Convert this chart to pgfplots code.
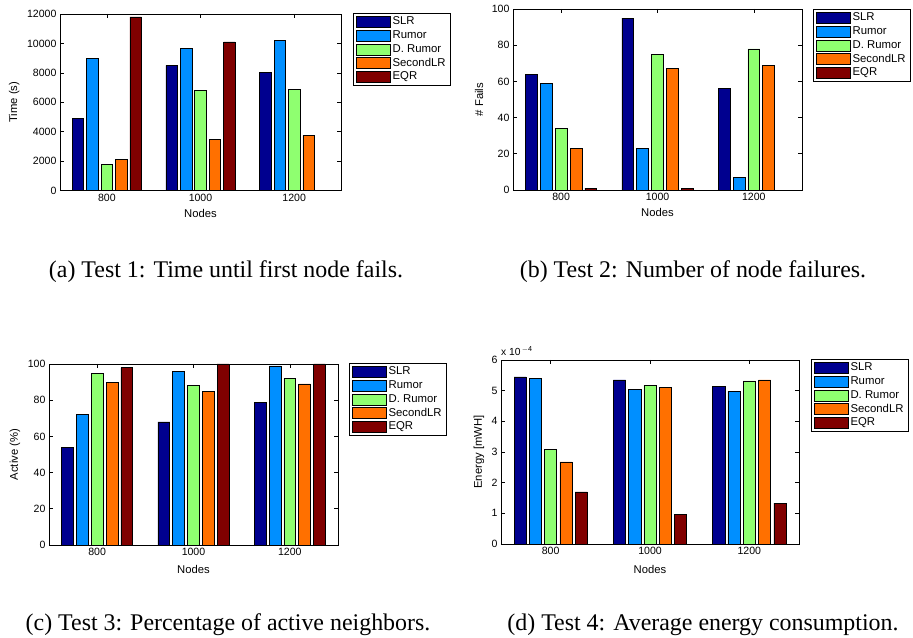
\documentclass[border=0pt]{standalone}
\usepackage{pgfplots}
\pgfplotsset{compat=1.18}
\usepackage{fontspec}
\setmainfont{Liberation Sans}
\newfontfamily\capfont{Liberation Serif}
\definecolor{cSLR}{rgb}{0,0,0.5625}
\definecolor{cRum}{rgb}{0,0.5625,1}
\definecolor{cDRum}{rgb}{0.5625,1,0.4375}
\definecolor{cSec}{rgb}{1,0.4375,0}
\definecolor{cEQR}{rgb}{0.5,0,0}
\pgfplotsset{
  panel/.style={
    scale only axis,
    clip mode=individual,
    anchor=south west,
    xmin=0.5, xmax=3.5,
    xtick={1,2,3}, xticklabels={800,1000,1200},
    ybar, bar width=0.123,
    ymin=0,
    tick align=inside,
    major tick length=4bp,
    axis line style={line width=0.8bp},
    every tick/.style={black, line width=0.6bp},
    tick label style={font=\fontsize{10.6}{12}\selectfont},
    label style={font=\fontsize{11.3}{13}\selectfont},
    /pgf/number format/assume math mode=true,
    /pgf/number format/1000 sep={},
    scaled y ticks=false,
    xlabel={Nodes},
    ylabel style={rotate=0, anchor=center},
    xlabel style={anchor=center},
    legend cell align=left,
    legend style={font=\fontsize{11.4}{13}\selectfont, anchor=north west, draw=black,
      line width=0.8bp, inner xsep=3bp, inner ysep=1.5bp, row sep=0bp,
      nodes={inner sep=1.6bp, text height=8.2bp, text depth=2.4bp}},
    legend image code/.code={\draw[#1,draw=black,line width=0.6bp] (0bp,-5.5bp) rectangle (34bp,5.5bp);},
    every axis plot/.append style={draw=black, line width=0.6bp},
  },
  s1/.style={fill=cSLR, bar shift=-0.3077},
  s2/.style={fill=cRum, bar shift=-0.1538},
  s3/.style={fill=cDRum, bar shift=0},
  s4/.style={fill=cSec, bar shift=0.1538},
  s5/.style={fill=cEQR, bar shift=0.3077},
}
\begin{document}
\begin{tikzpicture}[x=1bp,y=1bp]
\path (0,0) rectangle (913,638);
% (a)
\begin{axis}[panel, at={(60bp,447.4bp)}, width=281bp, height=176.6bp,
  ymax=12000, ytick={0,2000,...,12000},
  ylabel={Time (s)},
  ylabel style={at={(axis description cs:-0.1626,0.5)}},
  xlabel style={at={(axis description cs:0.5,-0.1285)}},
  legend style={at={(1.0427,1.0057)}}]
\addplot[s1] coordinates {(1,4900) (2,8500) (3,8050)};
\addplot[s2] coordinates {(1,9000) (2,9680) (3,10200)};
\addplot[s3] coordinates {(1,1800) (2,6800) (3,6850)};
\addplot[s4] coordinates {(1,2100) (2,3500) (3,3750)};
\addplot[s5] coordinates {(1,11800) (2,10100)};
\legend{SLR,Rumor,D. Rumor,SecondLR,EQR}
\end{axis}
% (b)
\begin{axis}[panel, at={(513bp,448bp)}, width=289bp, height=181bp,
  ymax=100, ytick={0,20,...,100},
  ylabel={\# Fails},
  ylabel style={at={(axis description cs:-0.1176,0.5)}},
  xlabel style={at={(axis description cs:0.5,-0.123)}},
  legend style={at={(1.038,1.0)}}]
\addplot[s1] coordinates {(1,64) (2,95) (3,56)};
\addplot[s2] coordinates {(1,59) (2,23) (3,7)};
\addplot[s3] coordinates {(1,34) (2,75) (3,78)};
\addplot[s4] coordinates {(1,23) (2,67) (3,69)};
\addplot[s5] coordinates {(1,1) (2,1)};
\legend{SLR,Rumor,D. Rumor,SecondLR,EQR}
\end{axis}
% (c)
\begin{axis}[panel, at={(49bp,93bp)}, width=289bp, height=181bp,
  ymax=100, ytick={0,20,...,100},
  ylabel={Active (\%)},
  ylabel style={at={(axis description cs:-0.1176,0.5)}},
  xlabel style={at={(axis description cs:0.5,-0.134)}},
  legend style={at={(1.038,1.0055)}}]
\addplot[s1] coordinates {(1,54) (2,68) (3,79)};
\addplot[s2] coordinates {(1,72) (2,96) (3,99)};
\addplot[s3] coordinates {(1,95) (2,88) (3,92)};
\addplot[s4] coordinates {(1,90) (2,85) (3,89)};
\addplot[s5] coordinates {(1,98) (2,100) (3,100)};
\legend{SLR,Rumor,D. Rumor,SecondLR,EQR}
\end{axis}
% (d)
\begin{axis}[panel, at={(501bp,94bp)}, width=298bp, height=184bp,
  ymax=6, ytick={0,1,...,6},
  ylabel={Energy [mWH]},
  ylabel style={at={(axis description cs:-0.0738,0.5)}},
  xlabel style={at={(axis description cs:0.5,-0.136)}},
  legend style={at={(1.040,1.0054)}}]
\addplot[s1] coordinates {(1,5.45) (2,5.35) (3,5.15)};
\addplot[s2] coordinates {(1,5.40) (2,5.05) (3,4.98)};
\addplot[s3] coordinates {(1,3.08) (2,5.18) (3,5.32)};
\addplot[s4] coordinates {(1,2.68) (2,5.10) (3,5.35)};
\addplot[s5] coordinates {(1,1.70) (2,0.97) (3,1.33)};
\legend{SLR,Rumor,D. Rumor,SecondLR,EQR}
\node[anchor=base west, inner sep=0pt, font=\fontsize{10.3}{12}\selectfont]
  at (axis description cs:0,1.027) {x 10\textsuperscript{\,$-$4}};
\end{axis}
% captions
\node[anchor=base, inner sep=0pt, font=\capfont\fontsize{24}{28}\selectfont] at (226,360) {(a) Test 1: Time until first node fails.};
\node[anchor=base, inner sep=0pt, font=\capfont\fontsize{24}{28}\selectfont] at (693,360) {(b) Test 2: Number of node failures.};
\node[anchor=base, inner sep=0pt, font=\capfont\fontsize{24}{28}\selectfont] at (228,7) {(c) Test 3: Percentage of active neighbors.};
\node[anchor=base, inner sep=0pt, font=\capfont\fontsize{24}{28}\selectfont] at (703,7) {(d) Test 4: Average energy consumption.};
\end{tikzpicture}
\end{document}
